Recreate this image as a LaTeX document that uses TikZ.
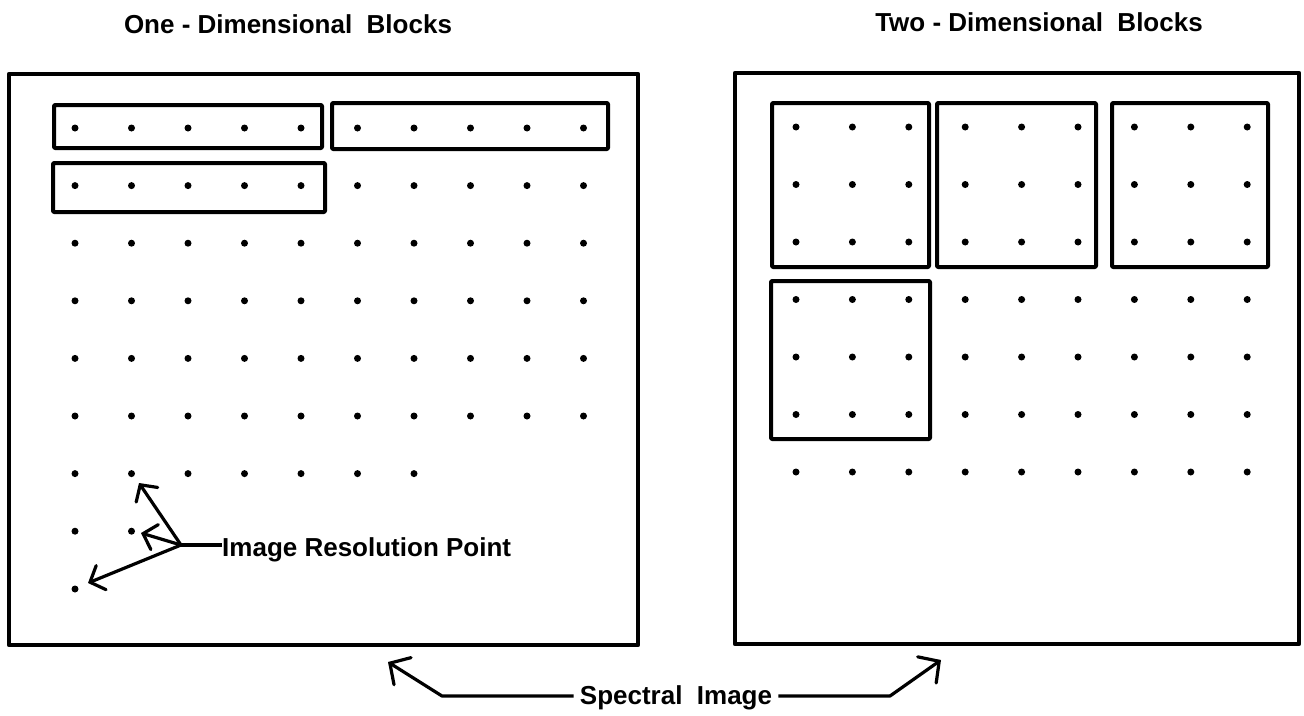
\documentclass[tikz,border=0pt]{standalone}
\usepackage{fontspec}
\setmainfont{Liberation Sans}
\usetikzlibrary{arrows.meta}
\tikzset{
  panel/.style={draw, line width=4.5pt, line join=round},
  blockbox/.style={draw, line width=4pt, line join=round, rounded corners=1pt},
  dot/.style={circle, fill, inner sep=0pt, minimum size=7pt},
  lbl/.style={font=\fontsize{26}{30}\selectfont\bfseries, inner sep=0pt},
  barb/.style={line width=3.2pt, -{Straight Barb[length=12pt,width=26pt,line cap=round]}},
  bigbarb/.style={line width=3.2pt, line join=round, -{Straight Barb[length=15pt,width=32pt,line cap=round]}},
  plain/.style={line width=3.2pt}
}
\begin{document}
\begin{tikzpicture}[x=1pt,y=-1pt]
\useasboundingbox (0,0) rectangle (1304,715);
% titles
\node[lbl, anchor=base] (t1) at (288,33) {One - Dimensional\ \ Blocks};
\node[lbl, anchor=base] (t2) at (1039,31) {Two - Dimensional\ \ Blocks};
% panels
\draw[panel] (9,74) rectangle (638,645);
\draw[panel] (735,73) rectangle (1299,644);
% left panel blocks
\draw[blockbox] (54,105) rectangle (322,148);
\draw[blockbox] (332,103) rectangle (608,149);
\draw[blockbox] (53,163) rectangle (325,212);
% left dots
\foreach \r in {0,...,5}{
  \foreach \c in {0,...,9}{
    \node[dot] (L-\r-\c) at ({75+56.5*\c},{128+57.6*\r}) {};
  }
}
\foreach \c in {0,...,6}{
  \node[dot] (L-6-\c) at ({75+56.5*\c},{128+57.6*6}) {};
}
\foreach \c in {0,1}{
  \node[dot] (L-7-\c) at ({75+56.5*\c},{128+57.6*7}) {};
}
\node[dot] (L-8-0) at (75,589) {};
% right panel blocks
\draw[blockbox] (772,103) rectangle (929,267);
\draw[blockbox] (937,103) rectangle (1096,267);
\draw[blockbox] (1112,103) rectangle (1268,267);
\draw[blockbox] (771,281) rectangle (930,439);
% right dots
\foreach \r in {0,...,6}{
  \foreach \c in {0,...,8}{
    \node[dot] (R-\r-\c) at ({796+56.4*\c},{127+57.5*\r}) {};
  }
}
% image resolution point label and arrows
\node[lbl, anchor=base west] (irp) at (222,556) {Image Resolution Point};
\coordinate (hub) at (181,545);
\coordinate (a1) at (139,483);
\coordinate (a2) at (141,533);
\coordinate (a3) at (88,583);
\draw[plain] (irp.west |- hub) -- (hub);
\draw[barb] (hub) -- (a1);
\draw[barb] (hub) -- (a2);
\draw[barb] (hub) -- (a3);
% spectral image
\node[lbl, anchor=base] (spec) at (676,704) {Spectral\ \ Image};
\coordinate (lb) at (442,696);
\coordinate (lt) at (388,662);
\coordinate (rb) at (890,696);
\coordinate (rt) at (941,660);
\draw[bigbarb] ([xshift=-6pt]spec.west |- lb) -- (lb) -- (lt);
\draw[bigbarb] ([xshift=6pt]spec.east |- rb) -- (rb) -- (rt);
\end{tikzpicture}
\end{document}
